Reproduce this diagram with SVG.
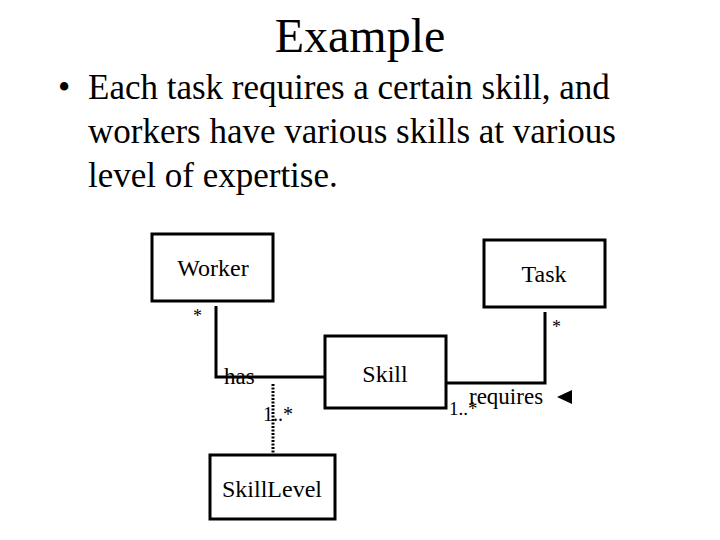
<svg xmlns="http://www.w3.org/2000/svg" width="720" height="540" viewBox="0 0 720 540">
<style>
text{font-family:"Liberation Serif",serif;fill:#000}
.box{fill:#fff;stroke:#000;stroke-width:3}
.l{fill:none;stroke:#000;stroke-width:3}
.n{font-size:24px;text-anchor:middle}
.m{font-size:18px}
</style>
<rect width="720" height="540" fill="#fff"/>
<text x="360" y="52" font-size="48" text-anchor="middle">Example</text>
<text x="58" y="99" font-size="35">•</text>
<text x="88" y="99" font-size="35">Each task requires a certain skill, and</text>
<text x="88" y="143" font-size="35">workers have various skills at various</text>
<text x="88" y="187" font-size="35">level of expertise.</text>
<g id="connectors">
<polyline class="l" points="216,306 216,377 327,377"/>
<line x1="273" y1="384" x2="273" y2="454" stroke="#000" stroke-width="3" stroke-dasharray="2,1.5"/>
<polyline class="l" points="545,312 545,383 446,383"/>
<polygon points="557,397 572,390 572,404"/>
<text class="m" x="193" y="322">*</text>
<text class="m" x="552" y="333">*</text>
<text font-size="23" x="224" y="384">has</text>
<text font-size="20" x="263" y="421">1..*</text>
<text font-size="19" x="449" y="415">1..*</text>
<text font-size="23" x="469" y="404">requires</text>
</g>
<g id="worker"><rect class="box" x="152" y="234" width="121" height="67"/><text class="n" x="213" y="276">Worker</text></g>
<g id="task"><rect class="box" x="484" y="240" width="121" height="67"/><text class="n" x="544" y="282">Task</text></g>
<g id="skill"><rect class="box" x="325" y="336" width="121" height="72"/><text class="n" x="385" y="382">Skill</text></g>
<g id="skilllevel"><rect class="box" x="210" y="455" width="125" height="64"/><text class="n" x="272" y="497">SkillLevel</text></g>
</svg>
